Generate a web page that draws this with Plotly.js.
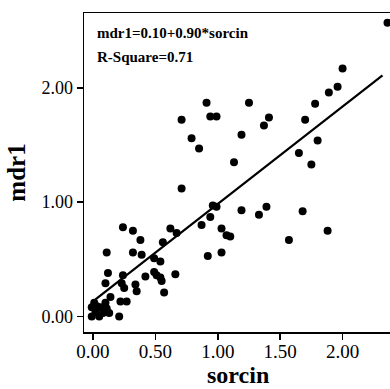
<!DOCTYPE html>
<html>
<head>
<meta charset="utf-8">
<script src="https://cdn.plot.ly/plotly-3.0.1.min.js"></script>
<style>
html,body{margin:0;padding:0;background:#fff;overflow:hidden;}
#chart{width:390px;height:389px;}
</style>
</head>
<body>
<div id="chart"></div>
<script>
// sorcin values (x) of observed cases
const sorcin = [2.36, 2.00, 1.96, 1.89, 1.78, 1.70, 1.80, 1.65, 1.75, 1.41,
  1.37, 1.25, 1.19, 1.13, 0.91, 0.94, 0.99, 0.71, 0.79, 0.85,
  0.71, 1.39, 1.33, 1.68, 1.88, 1.57, 1.19, 1.10, 0.96, 0.99,
  0.94, 0.87, 1.03, 1.07, 0.92, 1.03, 0.66, 0.67, 0.62, 0.56,
  0.49, 0.54, 0.24, 0.32, 0.38, 0.11, 0.32, 0.39, 0.12, 0.10,
  0.24, 0.23, 0.25, 0.34, 0.35, 0.42, 0.49, 0.51, 0.54, 0.55,
  0.57, 0.22, 0.27, 0.14, 0.01, -0.01, 0.03, 0.06, 0.10, 0.11,
  0.13, -0.01, 0.05, 0.21, 0.08, 0.02];
// mdr1 values (y) of observed cases
const mdr1 = [2.57, 2.17, 2.01, 1.96, 1.86, 1.72, 1.54, 1.43, 1.33, 1.74,
  1.67, 1.87, 1.59, 1.35, 1.87, 1.75, 1.75, 1.72, 1.56, 1.47,
  1.12, 0.96, 0.89, 0.92, 0.75, 0.67, 0.93, 0.70, 0.97, 0.96,
  0.87, 0.80, 0.77, 0.71, 0.53, 0.56, 0.37, 0.73, 0.77, 0.65,
  0.51, 0.48, 0.78, 0.75, 0.67, 0.56, 0.56, 0.54, 0.38, 0.29,
  0.36, 0.29, 0.25, 0.28, 0.22, 0.35, 0.39, 0.36, 0.34, 0.31,
  0.21, 0.13, 0.13, 0.17, 0.12, 0.08, 0.09, 0.08, 0.12, 0.07,
  0.03, 0.00, 0.00, 0.00, 0.03, 0.04];
// fitted line end points as drawn
const fitX = [0.02, 2.32];
const fitY = [0.15, 2.11];
const tickVals = [0, 0.5, 1, 1.5, 2];
const xTickText = ["0.00", "0.50", "1.00", "1.50", "2.00"];
const yTickVals = [0, 1, 2];
const yTickText = ["0.00", "1.00", "2.00"];
const xTitle = "sorcin";
const yTitle = "mdr1";
const eqText = "mdr1=0.10+0.90*sorcin";
const r2Text = "R-Square=0.71";

const serif = "Liberation Serif, Times New Roman, serif";

const traces = [
  {x: sorcin, y: mdr1, type: "scatter", mode: "markers",
   marker: {color: "#000", size: 8}, hoverinfo: "x+y", cliponaxis: false},
  {x: fitX, y: fitY, type: "scatter", mode: "lines",
   line: {color: "#000", width: 2.2}, hoverinfo: "skip"}
];

const layout = {
  width: 390, height: 389,
  margin: {l: 84, r: 0, t: 13, b: 57},
  paper_bgcolor: "#fff", plot_bgcolor: "#fff",
  showlegend: false,
  xaxis: {
    range: [-0.072, 2.38], showgrid: false, zeroline: false,
    showline: true, linecolor: "#000", linewidth: 1.5, mirror: true,
    ticks: "outside", ticklen: 6, tickwidth: 1.5, tickcolor: "#000",
    tickvals: tickVals, ticktext: xTickText, ticklabelstandoff: -4,
    tickfont: {family: serif, size: 19, color: "#000"}
  },
  yaxis: {
    range: [-0.136, 2.655], showgrid: false, zeroline: false,
    showline: true, linecolor: "#000", linewidth: 1.5, mirror: false,
    ticks: "outside", ticklen: 6, tickwidth: 1.5, tickcolor: "#000",
    tickvals: yTickVals, ticktext: yTickText,
    tickfont: {family: serif, size: 18, color: "#000"},
    title: {text: "<b>" + yTitle + "</b>", font: {family: serif, size: 25, color: "#000"}, standoff: 8}
  },
  annotations: [
    {text: "<b>" + xTitle + "</b>", xref: "paper", yref: "paper", x: 0.503, y: -0.135,
     xanchor: "center", yanchor: "middle", showarrow: false,
     font: {family: serif, size: 24, color: "#000"}},
    {text: "<b>" + eqText + "</b>", xref: "paper", yref: "paper", x: 0.036, y: 0.937,
     xanchor: "left", yanchor: "middle", showarrow: false,
     font: {family: serif, size: 15, color: "#000"}},
    {text: "<b>" + r2Text + "</b>", xref: "paper", yref: "paper", x: 0.036, y: 0.862,
     xanchor: "left", yanchor: "middle", showarrow: false,
     font: {family: serif, size: 15, color: "#000"}}
  ]
};

Plotly.newPlot("chart", traces, layout, {displayModeBar: false, staticPlot: true});
</script>
</body>
</html>
